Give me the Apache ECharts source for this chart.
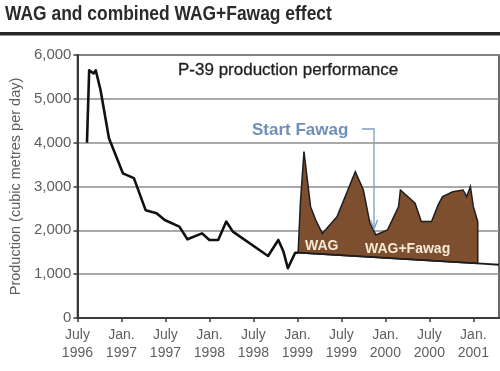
<!DOCTYPE html>
<html><head><meta charset="utf-8">
<script src="https://cdn.jsdelivr.net/npm/echarts@6/dist/echarts.min.js"></script>
<style>html,body{margin:0;padding:0;background:#fff}#c{width:500px;height:371px}</style>
</head><body><div id="c"></div>
<script>
// x values are months counted from July 1996 (0 = July 1996)
const tickMonths = [0, 6, 12, 18, 24, 30, 36, 42, 48, 54];
const tickLabels = ['July\n1996','Jan.\n1997','July\n1997','Jan.\n1998','July\n1998','Jan.\n1999','July\n1999','Jan.\n2000','July\n2000','Jan.\n2001'];
const yTicks = [0, 1000, 2000, 3000, 4000, 5000, 6000];

const production = [
  [1.3,4000],[1.6,5650],[2.2,5580],[2.5,5650],[3.15,5200],[4.3,4100],[6.2,3300],[7.7,3190],
  [9.3,2460],[10.8,2390],[11.9,2235],[13.9,2085],[15.0,1795],[17.0,1930],[18.0,1780],
  [19.2,1780],[20.3,2200],[21.2,1970],[26.0,1415],[27.4,1780],[28.1,1515],[28.7,1135],
  [29.7,1490],[30.1,1490]
];
const enhanced = [
  [30.1,1490],[30.4,2600],[30.9,3795],[31.8,2540],[32.5,2235],[33.4,1930],[35.4,2310],
  [37.9,3340],[39.0,2920],[39.9,2160],[40.7,1895],[42.3,2010],[43.8,2540],[44.05,2920],
  [46.05,2620],[46.9,2200],[48.3,2200],[49.2,2580],[49.8,2770],[51.2,2880],[52.6,2920],
  [53.1,2770],[53.6,3000],[54.0,2540],[54.6,2200],[54.6,1245]
];
const decline = [[30.1,1490],[54.6,1245],[57.5,1215]];

const chart = echarts.init(document.getElementById('c'));
const FONT = '"Liberation Sans", Arial, sans-serif';
chart.setOption({
  animation: false,
  backgroundColor: '#fff',
  grid: { left: 67, right: 1, top: 55, bottom: 53, show: true, borderColor: '#3a3a3a', borderWidth: 1.5 },
  xAxis: {
    type: 'value', min: 0, max: 57.5, interval: 6,
    axisLine: { show: true, lineStyle: { color: '#3a3a3a', width: 2 } },
    axisTick: { show: true, length: 4, inside: false, lineStyle: { color: '#3a3a3a', width: 1.5 }, customValues: tickMonths },
    axisLabel: { customValues: tickMonths, color: '#5e5e5e', fontFamily: FONT, fontSize: 14, lineHeight: 18, margin: 8,
      formatter: v => { const i = tickMonths.indexOf(v); return i >= 0 ? tickLabels[i] : ''; } },
    splitLine: { show: false }
  },
  yAxis: {
    type: 'value', min: 0, max: 6000, interval: 1000,
    name: 'Production (cubic metres per day)', nameLocation: 'middle', nameGap: 54,
    nameTextStyle: { color: '#5e5e5e', fontFamily: FONT, fontSize: 14.5 },
    axisLine: { show: true, lineStyle: { color: '#3a3a3a', width: 2 } },
    axisTick: { show: true, length: 4, lineStyle: { color: '#3a3a3a', width: 1.5 } },
    axisLabel: { color: '#5e5e5e', fontFamily: FONT, fontSize: 15, margin: 6,
      formatter: v => v === 0 ? '0' : v.toLocaleString('en-US') },
    splitLine: { show: true, lineStyle: { color: '#8c8c8c', width: 1.5 } }
  },
  series: [
    {
      type: 'custom', coordinateSystem: 'cartesian2d', z: 3,
      data: [[enhanced[0][0], enhanced[0][1]]],
      renderItem: (params, api) => {
        const pts = enhanced.map(p => api.coord(p));
        const base = decline.slice(0, 2).reverse().map(p => api.coord(p));
        return { type: 'polygon', shape: { points: pts.concat(base) },
          style: { fill: '#7d4f2f', stroke: '#1e1e1e', lineWidth: 1.5 } };
      }
    },
    { type: 'line', data: decline, symbol: 'none', z: 4, lineStyle: { color: '#1e1e1e', width: 1.8 } },
    { type: 'line', data: production, symbol: 'none', z: 4, lineStyle: { color: '#111', width: 2.6, join: 'round' } }
  ],
  graphic: [
    { type: 'text', x: 5, y: 4, scaleX: 0.83, style: { text: 'WAG and combined WAG+Fawag effect', fill: '#2b2b2b',
      font: 'bold 21px "Liberation Sans", Arial, sans-serif' } },
    { type: 'rect', shape: { x: 0, y: 32, width: 500, height: 3.5 }, style: { fill: '#262626' } },
    { type: 'text', x: 178, y: 70, style: { text: 'P-39 production performance', fill: '#1e1e1e',
      font: '17px "Liberation Sans", Arial, sans-serif', textVerticalAlign: 'middle', stroke: '#1e1e1e', lineWidth: 0.3 } },
    { type: 'text', x: 252, y: 130, z: 10, style: { text: 'Start Fawag', fill: '#6f8fba',
      font: 'bold 17px "Liberation Sans", Arial, sans-serif', textVerticalAlign: 'middle' } },
    { type: 'polyline', z: 10, shape: { points: [[362, 129], [374, 129], [374, 228]] },
      style: { stroke: '#7c9cc6', lineWidth: 1.3, fill: null } },
    { type: 'polyline', z: 10, shape: { points: [[370.5, 220], [374, 229], [377.5, 220]] },
      style: { stroke: '#7c9cc6', lineWidth: 1.3, fill: null } },
    { type: 'text', x: 305, y: 246, z: 10, style: { text: 'WAG', fill: '#f5ead6',
      font: 'bold 14px "Liberation Sans", Arial, sans-serif', textVerticalAlign: 'middle' } },
    { type: 'text', x: 365, y: 249, z: 10, style: { text: 'WAG+Fawag', fill: '#f5ead6',
      font: 'bold 14px "Liberation Sans", Arial, sans-serif', textVerticalAlign: 'middle' } }
  ]
});
</script></body></html>
